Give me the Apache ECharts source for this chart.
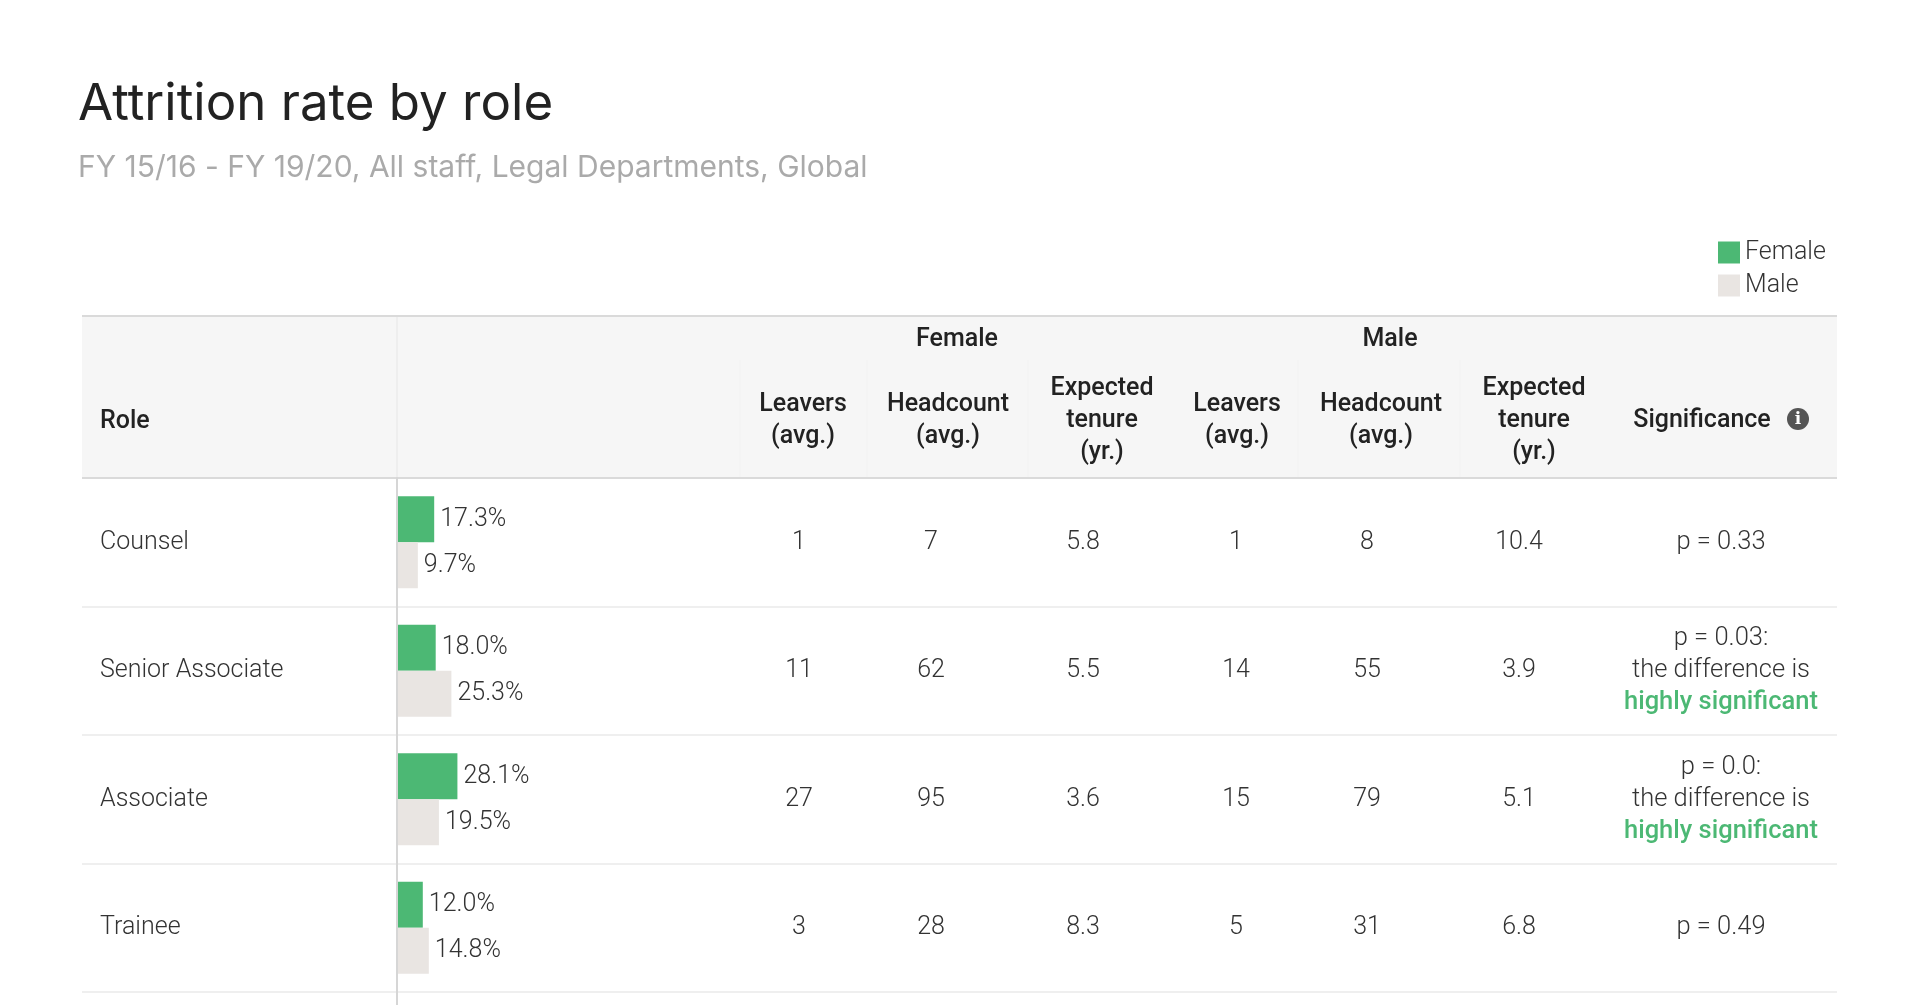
<!DOCTYPE html>
<html>
<head>
<meta charset="utf-8">
<title>Attrition rate by role</title>
<script src="https://cdn.jsdelivr.net/npm/echarts@6/dist/echarts.min.js"></script>
<style>
	html, body { margin: 0; padding: 0; background: #fff; }
	#chart { width: 1920px; height: 1005px; }
</style>
</head>
<body>
<div id="chart"></div>
<script>
	'use strict';

	// data
	var roles = ['Counsel', 'Senior Associate', 'Associate', 'Trainee'];
	var femaleRate = [17.3, 18.0, 28.1, 12.0];
	var maleRate = [9.7, 25.3, 19.5, 14.8];
	var femaleLeavers = [1, 11, 27, 3];
	var femaleHeadcount = [7, 62, 95, 28];
	var femaleTenure = [5.8, 5.5, 3.6, 8.3];
	var maleLeavers = [1, 14, 15, 5];
	var maleHeadcount = [8, 55, 79, 31];
	var maleTenure = [10.4, 3.9, 5.1, 6.8];
	var pValues = ['0.33', '0.03', '0.0', '0.49'];
	var significant = [false, true, true, false];

	// layout
	var GREEN = '#4cb874';
	var GREY = '#e9e5e2';
	var TEXT = '#333';
	var FONT = 'Roboto, "Noto Sans", sans-serif';
	var TABLE_L = 82, TABLE_R = 1837, HEAD_T = 316, BODY_T = 478, BODY_B = 992;
	var BAR_X = 397;
	var cellX = [799, 931, 1083, 1236, 1367, 1519];
	var sigX = 1721;

	function headText(x, y, text, align) {
		return {
			type: 'text',
			z: 10,
			style: {
				x: x, y: y, text: text,
				align: align || 'center', verticalAlign: 'middle',
				fontFamily: FONT, fontSize: 25, fontWeight: 500,
				lineHeight: 32, fill: '#222'
			}
		};
	}

	function vline(x, y1, y2, color, w) {
		return {
			type: 'line', z: 5,
			shape: { x1: x, y1: y1, x2: x, y2: y2 },
			style: { stroke: color, lineWidth: w || 2 }
		};
	}

	function renderRow(params, api) {
		var i = params.dataIndex;
		var y = api.coord([0, i])[1];
		var cells = [
			femaleLeavers[i], femaleHeadcount[i], femaleTenure[i].toFixed(1),
			maleLeavers[i], maleHeadcount[i], maleTenure[i].toFixed(1)
		];
		var children = cells.map(function (v, c) {
			return {
				type: 'text',
				style: {
					x: cellX[c], y: y, text: String(v),
					align: 'center', verticalAlign: 'middle',
					fontFamily: FONT, fontSize: 25, fontWeight: 300, fill: TEXT
				}
			};
		});
		var sig = 'p = ' + pValues[i];
		if (significant[i]) {
			sig += ':\nthe difference is\n{hl|highly significant}';
		}
		children.push({
			type: 'text',
			style: {
				x: sigX, y: y, text: sig,
				align: 'center', verticalAlign: 'middle',
				fontFamily: FONT, fontSize: 25.5, fontWeight: 300,
				lineHeight: 32, fill: TEXT,
				rich: {
					hl: { fontFamily: FONT, fontSize: 25.5, fontWeight: 500, lineHeight: 32, fill: GREEN, color: GREEN }
				}
			}
		});
		return { type: 'group', children: children };
	}

	var option = {
		animation: false,
		backgroundColor: '#fff',
		title: {
			text: 'Attrition rate by role',
			subtext: 'FY 15/16 - FY 19/20, All staff, Legal Departments, Global',
			left: 73,
			top: 74,
			itemGap: 23,
			textStyle: {
				fontFamily: 'Inter, "Open Sans", sans-serif',
				fontSize: 51,
				fontWeight: 400,
				color: '#222'
			},
			subtextStyle: {
				fontFamily: 'Inter, "Open Sans", sans-serif',
				fontSize: 30,
				color: '#aaa'
			}
		},
		legend: {
			data: ['Female', 'Male'],
			orient: 'vertical',
			left: 1713,
			top: 235,
			icon: 'rect',
			itemWidth: 22,
			itemHeight: 22,
			itemGap: 8,
			textStyle: { fontFamily: FONT, fontSize: 25, fontWeight: 300, color: TEXT }
		},
		grid: [
			{ left: BAR_X, top: BODY_T, width: 215, height: BODY_B - BODY_T },
			{ left: TABLE_L, top: BODY_T, width: TABLE_R - TABLE_L, height: BODY_B - BODY_T }
		],
		xAxis: [
			{ gridIndex: 0, type: 'value', min: 0, max: 100, show: false },
			{ gridIndex: 1, type: 'value', min: 0, max: 1, show: false }
		],
		yAxis: [
			{
				gridIndex: 0,
				type: 'category',
				data: roles,
				inverse: true,
				axisLine: { show: true, lineStyle: { color: '#d6d6d6', width: 2 } },
				axisTick: { show: false },
				splitLine: { show: false },
				axisLabel: {
					align: 'left',
					margin: BAR_X - 100,
					fontFamily: FONT,
					fontSize: 25,
					fontWeight: 300,
					color: TEXT
				},
				z: 6
			},
			{
				gridIndex: 1,
				type: 'category',
				data: roles,
				inverse: true,
				axisLine: { show: false },
				axisTick: { show: false },
				axisLabel: { show: false },
				splitLine: { show: true, interval: 0, lineStyle: { color: '#efefef', width: 2 } }
			}
		],
		series: [
			{
				name: 'Female',
				type: 'bar',
				xAxisIndex: 0,
				yAxisIndex: 0,
				data: femaleRate,
				barWidth: 46,
				barGap: '0%',
				itemStyle: { color: GREEN },
				label: {
					show: true,
					position: 'right',
					distance: 6,
					formatter: function (p) { return p.value.toFixed(1) + '%'; },
					fontFamily: FONT, fontSize: 25, fontWeight: 300, color: TEXT
				}
			},
			{
				name: 'Male',
				type: 'bar',
				xAxisIndex: 0,
				yAxisIndex: 0,
				data: maleRate,
				barWidth: 46,
				barGap: '0%',
				itemStyle: { color: GREY },
				label: {
					show: true,
					position: 'right',
					distance: 6,
					formatter: function (p) { return p.value.toFixed(1) + '%'; },
					fontFamily: FONT, fontSize: 25, fontWeight: 300, color: TEXT
				}
			},
			{
				name: 'table',
				type: 'custom',
				xAxisIndex: 1,
				yAxisIndex: 1,
				renderItem: renderRow,
				data: roles.map(function (r, i) { return [0, i]; }),
				silent: true
			}
		],
		graphic: [
			{
				type: 'rect', z: 1,
				shape: { x: TABLE_L, y: HEAD_T, width: TABLE_R - TABLE_L, height: BODY_T - HEAD_T },
				style: { fill: '#f6f6f6' }
			},
			{
				type: 'line', z: 5,
				shape: { x1: TABLE_L, y1: HEAD_T, x2: TABLE_R, y2: HEAD_T },
				style: { stroke: '#dadada', lineWidth: 2 }
			},
			{
				type: 'line', z: 5,
				shape: { x1: TABLE_L, y1: BODY_T, x2: TABLE_R, y2: BODY_T },
				style: { stroke: '#dadada', lineWidth: 2 }
			},
			vline(BAR_X, HEAD_T + 1, BODY_T - 1, '#eeeeee'),
			vline(740, 360, BODY_T - 1, '#f2f2f2', 1),
			vline(867, 360, BODY_T - 1, '#f2f2f2', 1),
			vline(1028, 360, BODY_T - 1, '#f2f2f2', 1),
			vline(1298, 360, BODY_T - 1, '#f2f2f2', 1),
			vline(1460, 360, BODY_T - 1, '#f2f2f2', 1),
			vline(BAR_X, BODY_B, 1005, '#d6d6d6'),
			headText(100, 422, 'Role', 'left'),
			headText(957, 340, 'Female'),
			headText(1390, 340, 'Male'),
			headText(803, 421, 'Leavers\n(avg.)'),
			headText(948, 421, 'Headcount\n(avg.)'),
			headText(1102, 421, 'Expected\ntenure\n(yr.)'),
			headText(1237, 421, 'Leavers\n(avg.)'),
			headText(1381, 421, 'Headcount\n(avg.)'),
			headText(1534, 421, 'Expected\ntenure\n(yr.)'),
			headText(1702, 421, 'Significance'),
			{
				type: 'circle', z: 10,
				shape: { cx: 1798, cy: 419, r: 11 },
				style: { fill: '#555' }
			},
			{
				type: 'text', z: 11,
				style: {
					x: 1798, y: 420, text: 'i',
					align: 'center', verticalAlign: 'middle',
					fontFamily: 'Georgia, "DejaVu Serif", serif', fontSize: 17, fontWeight: 'bold', fill: '#fff'
				}
			}
		]
	};

	var chart = echarts.init(document.getElementById('chart'));
	chart.setOption(option);
</script>
</body>
</html>
